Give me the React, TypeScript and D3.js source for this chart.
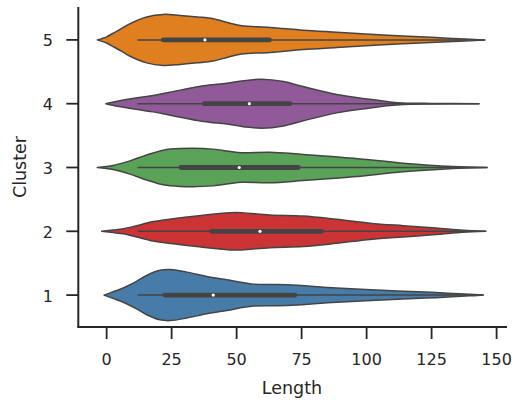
import React from "react";
import * as d3 from "d3";

const clusters = ["5", "4", "3", "2", "1"];
const colors = ["#df7f20", "#905998", "#59a257", "#cb3335", "#477ca8"];
const xTicks = [0, 25, 50, 75, 100, 125, 150];

// density profiles [length, relative density]
const density5: [number, number][] = [[-3.6,0],[0,.12],[2.5,.26],[6,.46],[9,.64],[15.4,.90],[21.8,1.0],[28.2,.96],[35,.90],[41,.83],[46.9,.67],[52,.55],[62.8,.49],[75.6,.38],[88.5,.30],[101.3,.22],[114,.15],[126.7,.09],[139.6,.03],[145.5,0]];
const density4: [number, number][] = [[-0.3,0],[1.8,.05],[11.9,.23],[17.9,.32],[24.4,.45],[37.2,.70],[46.2,.80],[52.6,.90],[59.6,.96],[68,.87],[75.6,.67],[88.5,.36],[101.3,.17],[109,.07],[114,.03],[125,.01],[143.3,0]];
const density3: [number, number][] = [[-3.6,0],[2.5,.08],[9,.26],[15.4,.49],[21.8,.68],[28.2,.74],[41,.72],[46.9,.64],[52,.58],[62.8,.60],[75.6,.51],[94.9,.36],[114,.17],[133.3,.04],[146.4,0]];
const density2: [number, number][] = [[-1.9,0],[2.5,.05],[6.4,.10],[11.5,.22],[17.9,.38],[25.6,.49],[34.6,.60],[47.4,.73],[52,.73],[62.8,.64],[75.6,.60],[88.5,.47],[101.3,.32],[114,.22],[126.7,.13],[137,.04],[145.9,0]];
const density1: [number, number][] = [[-1,0],[2.5,.13],[6.4,.28],[11.5,.54],[15.4,.77],[20.5,.97],[24.4,1.0],[30.8,.90],[38.5,.73],[46.2,.60],[56.4,.43],[69.2,.41],[88.5,.28],[114,.15],[126.7,.10],[139.6,.03],[144.9,0]];
const densities = [density5, density4, density3, density2, density1];

// box stats: [whiskerLo, q1, median, q3, whiskerHi]
const boxStats: number[][] = [
  [11.9, 21.8, 37.8, 62.6, 145.5],
  [11.9, 37.6, 54.9, 70.5, 143.3],
  [11.9, 28.6, 51, 73.7, 146.4],
  [11.9, 40.4, 59, 82.7, 145.9],
  [11.9, 22.4, 41, 72.4, 144.9],
];

export default function App() {
  const W = 516, H = 402;
  const left = 78.3, right = 507, top = 8, bottom = 327;
  const x = d3.scaleLinear().domain([-10.9, 154]).range([left, right]);
  const y = d3.scaleBand().domain(clusters).range([top, bottom]).padding(0);
  const w = d3.scaleLinear().domain([0, 1]).range([0, y.bandwidth() * 0.4]);
  const ink = "#262626";
  const line = "#444444";
  const font = "DejaVu Sans, sans-serif";

  return (
    <svg width={W} height={H} style={{ position: "absolute", left: 0, top: 0 }} fontFamily={font}>
      <rect width={W} height={H} fill="#fff" />
      {clusters.map((c, i) => {
        const cy = (y(c) as number) + y.bandwidth() / 2;
        const area = d3.area<[number, number]>()
          .x(d => x(d[0]))
          .y0(d => cy - w(Math.max(0, d[1])))
          .y1(d => cy + w(Math.max(0, d[1])))
          .curve(d3.curveCatmullRom.alpha(0.5));
        const s = boxStats[i];
        return (
          <g key={c}>
            <path d={area(densities[i]) || ""} fill={colors[i]} stroke={line} strokeWidth={1.5} strokeLinejoin="round" />
            <line x1={x(s[0])} x2={x(s[4])} y1={cy} y2={cy} stroke={line} strokeWidth={1.5} />
            <line x1={x(s[1])} x2={x(s[3])} y1={cy} y2={cy} stroke={line} strokeWidth={4.8} strokeLinecap="round" />
            <circle cx={x(s[2])} cy={cy} r={1.6} fill="#fff" />
          </g>
        );
      })}
      {/* axes */}
      <line x1={left} x2={left} y1={top - 1} y2={bottom} stroke={ink} strokeWidth={2} />
      <line x1={left - 1} x2={right} y1={bottom} y2={bottom} stroke={ink} strokeWidth={2} />
      {xTicks.map(t => (
        <g key={t}>
          <line x1={x(t)} x2={x(t)} y1={bottom} y2={bottom + 12} stroke={ink} strokeWidth={1.8} />
          <text x={x(t)} y={365} textAnchor="middle" fontSize={16} fill={ink}>{t}</text>
        </g>
      ))}
      {clusters.map(c => {
        const cy = (y(c) as number) + y.bandwidth() / 2;
        return (
          <g key={c}>
            <line x1={left - 12} x2={left} y1={cy} y2={cy} stroke={ink} strokeWidth={1.8} />
            <text x={53} y={cy + 6.5} textAnchor="end" fontSize={16} fill={ink}>{c}</text>
          </g>
        );
      })}
      <text x={292} y={394} textAnchor="middle" fontSize={17.5} fill={ink}>Length</text>
      <text transform="translate(26,167) rotate(-90)" textAnchor="middle" fontSize={17.5} fill={ink}>Cluster</text>
    </svg>
  );
}
